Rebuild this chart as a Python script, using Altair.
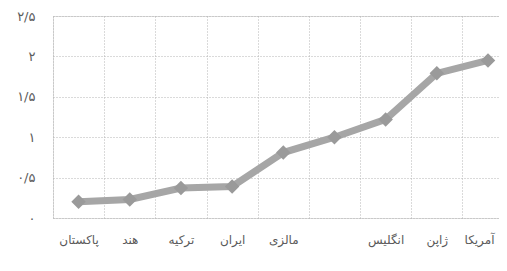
import json
import altair as alt
import pandas as pd

# categories (left to right as printed), the 6th label is blank in the source
countries = ["پاکستان", "هند", "ترکیه", "ایران", "مالزی", "", "انگلیس", "ژاپن", "آمریکا"]
values = [0.20, 0.23, 0.37, 0.39, 0.81, 1.00, 1.22, 1.79, 1.95]
y_ticks = [0, 0.5, 1, 1.5, 2, 2.5]
y_tick_labels = ["۰", "۰/۵", "۱", "۱/۵", "۲", "۲/۵"]

df = pd.DataFrame({
    "pos": list(range(1, len(countries) + 1)),
    "country": countries,
    "value": values,
})

x_vals = [i / 2 for i in range(1, 2 * len(countries) + 1)]  # 0.5 .. 9
x_label_expr = (
    "datum.value % 1 === 0 ? " + json.dumps(countries, ensure_ascii=False)
    + "[datum.value - 1] : ''"
)
y_label_expr = (
    json.dumps(y_tick_labels, ensure_ascii=False) + "[round(datum.value * 2)]"
)

FONT = "DejaVu Sans"
GRID = "#b4b4b4"
TXT = "#5a5a5a"

x_enc = alt.X(
    "pos:Q",
    scale=alt.Scale(domain=[0.5, 9.215], nice=False, zero=False),
    axis=alt.Axis(
        title=None,
        values=x_vals,
        labelExpr=x_label_expr,
        grid=True,
        gridColor=GRID,
        gridDash=[1, 2],
        gridWidth=1,
        gridOpacity={"condition": {"test": "datum.value % 1 !== 0", "value": 1}, "value": 0},
        labelOffset={"condition": {"test": "datum.value === 9", "value": -9}, "value": 0},
        ticks=False,
        domain=False,
        labelPadding=16,
        labelFontSize=12,
        labelFont=FONT,
        labelColor=TXT,
    ),
)
y_enc = alt.Y(
    "value:Q",
    scale=alt.Scale(domain=[0, 2.5], nice=False),
    axis=alt.Axis(
        title=None,
        values=y_ticks,
        labelExpr=y_label_expr,
        grid=True,
        gridColor=GRID,
        gridDash=[1, 2],
        gridWidth=1,
        ticks=False,
        domain=False,
        labelPadding=18,
        labelFontSize=13,
        labelFont=FONT,
        labelColor=TXT,
    ),
)

line = alt.Chart(df).mark_line(color="#a6a6a6", strokeWidth=7).encode(x=x_enc, y=y_enc)
pts = alt.Chart(df).mark_point(
    shape="diamond", size=210, filled=True, color="#9a9a9a", opacity=1
).encode(x=x_enc, y=y_enc)

chart = (
    alt.layer(line, pts)
    .properties(
        width=446,
        height=202,
        autosize=alt.AutoSizeParams(type="none"),
        padding={"left": 45, "top": 8, "right": 0, "bottom": 40},
    )
    .configure_view(stroke=None)
    .configure(background="white")
)

chart.save("out.html", embed_options={"renderer": "svg", "actions": False})
